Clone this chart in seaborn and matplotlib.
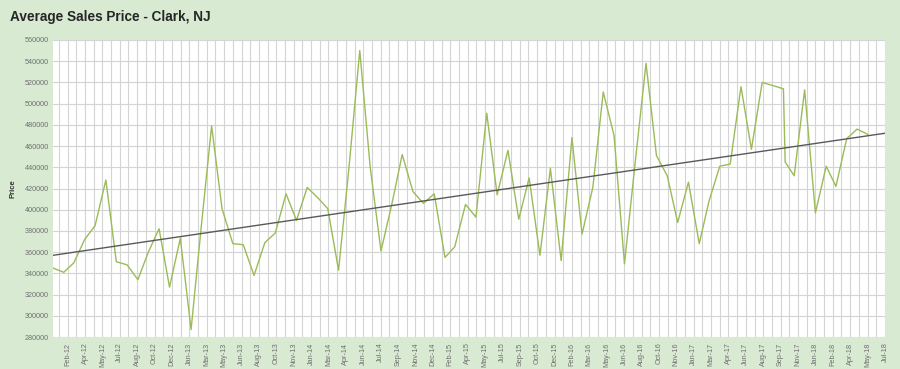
import numpy as np
import pandas as pd
import matplotlib
matplotlib.use('Agg')
import matplotlib.pyplot as plt
import matplotlib.dates as mdates
from matplotlib.ticker import FixedLocator, FuncFormatter
import seaborn as sns

# monthly average sale price, Jan-12 .. Jun-18 (one extra reading in Oct-17)
months = list(pd.date_range('2012-01-01', '2018-06-01', freq='MS'))
sale_dates = months[:70] + [pd.Timestamp('2017-10-06')] + months[70:]
avg_price = [
    345000, 341000, 350000, 372000, 385000, 428000, 351000, 348000, 334000, 360000, 382000, 327000,
    373000, 287000, 380000, 479000, 401000, 368000, 367000, 338000, 369000, 378000, 415000, 390000,
    421000, 411000, 401000, 343000, 440000, 550000, 440000, 361000, 405000, 452000, 417000, 406000,
    415000, 355000, 365000, 405000, 393000, 491000, 414000, 456000, 391000, 430000, 357000, 439000,
    352000, 468000, 377000, 421000, 511000, 470000, 349000, 445000, 538000, 451000, 432000, 388000,
    426000, 368000, 408000, 441000, 443000, 516000, 457000, 520000, 517000, 514000, 445000,
    432000, 513000, 397000, 441000, 422000, 467000, 476000, 471000,
]
df = pd.DataFrame({'date': sale_dates, 'price': avg_price})

# axis: date ticks every 50 days starting Feb-12
x_start, x_end = pd.Timestamp('2012-01-01'), pd.Timestamp('2018-07-20')
major_ticks = pd.date_range('2012-02-12', x_end, freq='50D')
minor_ticks = pd.date_range('2012-01-18', x_end, freq='25D')
y_ticks = list(range(280000, 560001, 20000))

sns.set_style('white')
plt.rcParams['font.family'] = ['Liberation Sans', 'DejaVu Sans']

bg = '#d9ead3'
fig = plt.figure(figsize=(9, 3.69), dpi=100, facecolor=bg)
ax = fig.add_axes([0.0589, 0.0867, 0.9244, 0.8049])
ax.set_facecolor('white')

sns.lineplot(data=df, x='date', y='price', color='#9bbb59', linewidth=1.0, ax=ax)

# linear trend across the whole axis
xn = mdates.date2num(df['date'])
coef = np.polyfit(xn, df['price'], 1)
xl = mdates.date2num([x_start, x_end])
ax.plot(xl, np.polyval(coef, xl), color='#595959', linewidth=1.0)

ax.set_xlim(x_start, x_end)
ax.set_ylim(280000, 560000)
ax.set_yticks(y_ticks)
ax.yaxis.set_major_formatter(FuncFormatter(lambda v, p: f'{int(v)}'))
ax.xaxis.set_major_locator(FixedLocator(mdates.date2num(major_ticks)))
ax.xaxis.set_minor_locator(FixedLocator(mdates.date2num(minor_ticks)))
ax.xaxis.set_major_formatter(mdates.DateFormatter('%b-%y'))

ax.grid(True, which='major', color='#d4d4d4', linewidth=0.8)
ax.grid(True, which='minor', axis='x', color='#d4d4d4', linewidth=0.8)
ax.set_axisbelow(True)
for s in ax.spines.values():
    s.set_visible(False)
ax.tick_params(axis='both', which='both', length=0, labelsize=5.2, labelcolor='#6f6f6f')
ax.tick_params(axis='x', pad=4)
ax.tick_params(axis='y', pad=3)
plt.setp(ax.get_xticklabels(), rotation=90)

ax.set_xlabel('')
ax.set_ylabel('Price', fontsize=5.5, fontweight='bold', color='#333333', labelpad=6)

fig.text(0.011, 0.955, 'Average Sales Price - Clark, NJ', fontsize=9.8, fontweight='bold',
         color='#262626', ha='left', va='center')

fig.savefig('out.png', dpi=100, facecolor=bg)
